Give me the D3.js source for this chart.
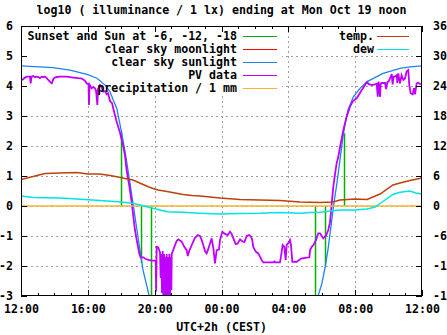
<!DOCTYPE html>
<html><head><meta charset="utf-8">
<script src="https://cdn.jsdelivr.net/npm/d3@7"></script>
<style>
body{margin:0;background:#fff}
svg text{font-family:"DejaVu Sans Mono",monospace;font-weight:bold;font-size:11.6px;fill:#000}
</style></head><body>
<svg id="c" width="447" height="335"></svg>
<script>
// ---- data (hours since Sun 12:00 noon) ----
const hourTicks=[0,4,8,12,16,20,24];
const hourLabels=["12:00","16:00","20:00","00:00","04:00","08:00","12:00"];
const leftTicks=[-3,-2,-1,0,1,2,3,4,5,6];
const rightTicks=[-18,-12,-6,0,6,12,18,24,30,36];
const titleText="log10 ( illuminance / 1 lx) ending at Mon Oct 19 noon";
const xLabel="UTC+2h (CEST)";

// Sunset and Sun at -6, -12, -18 (impulses)
const sunEventTimes=[5.99,7.16,7.76,17.61,18.21,19.35];
const sunEventValues=[2.48,-1.9,-3.3,-3.3,-2.0,2.42];

// clear sky moonlight (below range all night)
const moonTimes=[];
const moonValues=[];

// clear sky sunlight
const sunTimes=[0,1.92,2.93,3.95,4.55,5.03,5.33,5.52,5.73,6.03,6.28,6.52,6.72,6.94,7.12,7.30,7.54,7.66,7.78,
 17.66,17.78,18.01,18.19,18.37,18.55,18.73,18.91,19.09,19.27,19.39,19.57,19.89,20.29,20.69,21.67,22.68,23.28,24];
const sunValues=[4.67,4.61,4.53,4.39,4.26,4.03,3.81,3.53,3.26,2.43,1.64,0.77,0.03,-0.8,-1.47,-2.13,-2.69,-2.97,-3.4,
 -3.4,-3.0,-2.58,-2.07,-1.47,-0.69,0.1,0.77,1.53,2.3,2.7,3.2,3.64,3.92,4.14,4.42,4.59,4.64,4.67];

// PV data
const pvTimes=[
0,0.12,0.24,0.34,0.54,0.58,0.63,0.74,0.84,0.94,
1.04,1.14,1.24,1.33,1.44,1.54,1.63,1.74,1.84,1.90,
1.93,2.03,2.14,2.33,2.74,3.13,3.43,3.65,3.83,3.93,
4.04,4.07,4.10,4.13,4.23,4.33,4.43,4.49,4.57,4.61,
4.73,4.83,4.93,5.03,5.13,5.21,5.33,5.45,5.52,5.73,
5.93,6.12,6.22,6.32,6.49,6.62,6.72,6.82,6.96,7.08,
7.16,7.32,7.42,7.62,7.82,8.06,8.09,8.12,8.21,8.32,
8.36,8.40,8.44,8.48,8.52,8.56,8.60,8.64,8.68,8.72,
8.76,8.80,8.84,8.88,8.92,8.96,9.00,9.02,9.11,9.22,
9.32,9.41,9.62,9.77,9.92,9.98,10.07,10.22,10.41,10.58,
10.71,10.81,10.91,11.01,11.11,11.21,11.31,11.41,11.51,11.61,
11.71,11.85,11.91,12.05,12.21,12.37,12.51,12.61,12.71,12.85,
12.97,13.11,13.25,13.37,13.51,13.65,13.77,13.84,13.90,14.05,
14.20,14.30,14.40,14.50,15.10,15.16,15.23,15.50,15.56,15.66,
15.76,15.84,15.90,16.00,16.10,16.16,16.24,16.50,16.60,16.76,
17.00,17.26,17.30,17.40,17.50,17.66,17.79,17.90,18.00,18.09,
18.26,18.39,18.50,18.60,18.69,18.80,18.89,18.99,19.09,19.29,
19.49,19.69,19.87,20.09,20.33,20.53,20.65,20.73,20.79,20.99,
21.29,21.35,21.40,21.49,21.53,21.59,21.79,21.85,21.93,22.00,
22.13,22.19,22.24,22.30,22.39,22.49,22.52,22.58,22.68,22.78,
22.88,22.98,23.08,23.18,23.24,23.32,23.44,23.52,23.58,23.68,
23.78,23.88,23.94];
const pvValues=[
4.20,4.22,4.28,4.31,4.31,4.09,4.31,4.33,4.29,4.31,
4.30,4.26,4.31,4.30,4.31,4.26,4.20,4.14,4.09,4.17,
4.23,4.28,4.30,4.31,4.31,4.28,4.26,4.25,4.17,4.09,
4.05,3.37,4.05,4.02,3.92,3.97,3.92,3.85,3.37,3.90,
4.03,3.95,3.81,3.83,3.72,3.76,3.50,3.43,3.26,2.80,
2.43,2.00,1.70,1.20,0.65,0.15,-0.33,-0.80,-1.24,-1.58,
-1.71,-1.71,-1.75,-1.80,-1.82,-1.82,-2.85,-1.36,-1.38,-1.55,
-2.40,-1.60,-2.90,-1.50,-3.20,-1.60,-3.20,-1.70,-3.20,-1.60,
-3.20,-1.70,-3.20,-1.60,-3.20,-1.70,-2.80,-1.60,-1.47,-1.30,
-1.16,-1.11,-1.19,-1.36,-1.47,-1.67,-1.50,-1.30,-1.06,-0.97,
-1.00,-1.13,-1.30,-1.50,-1.58,-1.43,-1.25,-1.08,-1.40,-1.91,
-1.47,-1.45,-1.13,-0.86,-0.93,-0.97,-0.86,-0.93,-1.08,-1.27,
-1.25,-1.11,-1.18,-1.20,-1.00,-0.97,-1.02,-1.13,-1.36,-1.52,
-1.58,-1.69,-1.80,-1.88,-1.88,-1.85,-1.88,-1.88,-1.69,-1.30,
-1.36,-1.80,-1.30,-1.24,-1.13,-1.30,-1.86,-1.86,-1.82,-1.75,
-1.73,-1.71,-1.47,-1.36,-1.30,-1.13,-0.91,-0.91,-1.00,-1.08,
-0.98,-0.80,-0.52,0.09,0.64,1.09,1.42,1.64,1.95,2.53,
2.98,3.31,3.50,3.59,3.81,3.98,4.09,4.13,4.07,4.03,
4.07,3.64,4.15,3.64,4.08,4.10,4.10,3.90,4.13,4.15,
4.31,4.40,4.05,4.30,4.32,4.36,4.10,4.42,4.09,4.36,
4.20,4.25,4.48,4.53,4.03,3.76,3.72,3.93,3.72,4.09,
4.11,4.07,4.05];

// precipitation / 1 mm (log scale, left axis)
const precipTimes=[0,24];
const precipValues=[0,0];

// temperature and dew point (right axis, °C)
const tempTimes=[0,1.44,2.33,3.35,4.01,4.73,5.33,5.81,6.22,6.70,7.24,7.72,8.20,8.74,9.22,9.70,10.23,10.71,11.31,11.91,
 13.11,14.30,15.50,16.70,17.90,18.67,19.09,19.99,20.71,21.49,22.26,22.68,23.28,24];
const tempValues=[5.3,6.5,6.6,6.7,6.4,6.4,6.1,5.8,5.5,5.2,4.4,3.7,3.2,2.9,2.6,2.3,2.1,2.0,1.8,1.6,
 1.3,1.2,1.1,0.8,0.7,0.8,1.2,1.4,1.3,2.4,4.2,4.6,5.1,5.6];
const dewTimes=[0,0.72,2.33,3.35,4.73,5.81,6.70,7.12,7.72,8.32,8.74,9.70,10.71,11.91,13.11,14.30,15.50,16.70,17.30,17.90,
 18.49,19.09,19.99,20.71,21.19,21.49,22.26,22.68,23.28,23.64,24];
const dewValues=[2.0,1.7,1.6,1.4,1.1,0.85,0.55,0.2,-0.3,-0.8,-1.15,-1.25,-1.45,-1.6,-1.5,-1.45,-1.3,-1.45,-1.3,-1.25,
 -1.0,-0.8,-0.8,-0.6,-0.2,0.5,2.3,2.75,3.0,2.6,2.4];

const leftLegendNames=["Sunset and Sun at -6, -12, -18","clear sky moonlight","clear sky sunlight","PV data","precipitation / 1 mm"];
const leftLegendColors=["#00b000","#ff0000","#1e82f0","#c000ff","#f5b530"];
const rightLegendNames=["temp.","dew"];
const rightLegendColors=["#c0400a","#00e4e4"];

// ---- layout ----
const L=21,R=422,T=26,B=296;
const svg=d3.select("#c");
const x=d3.scaleLinear().domain([0,24]).range([L,R]);
const y=d3.scaleLinear().domain([-3,6]).range([B,T]);
const y2=d3.scaleLinear().domain([-18,36]).range([B,T]);

svg.append("defs").append("clipPath").attr("id","plot")
  .append("rect").attr("x",L).attr("y",T).attr("width",R-L).attr("height",B-T);
// mask for grid (grid is not drawn behind the key)
const mask=svg.select("defs").append("mask").attr("id","gridmask");
mask.append("rect").attr("x",0).attr("y",0).attr("width",447).attr("height",335).attr("fill","#fff");
mask.append("rect").attr("x",24).attr("y",28).attr("width",258).attr("height",67).attr("fill","#000");
mask.append("rect").attr("x",330).attr("y",28).attr("width",82).attr("height",27).attr("fill","#000");

// grid
const grid=svg.append("g").attr("mask","url(#gridmask)")
  .attr("stroke","#a0a0a0").attr("stroke-dasharray","2,3").attr("shape-rendering","crispEdges");
grid.selectAll("line.v").data(hourTicks.slice(1,-1)).join("line")
  .attr("x1",d=>Math.round(x(d))+0.5).attr("x2",d=>Math.round(x(d))+0.5).attr("y1",T).attr("y2",B);
grid.selectAll("line.h").data(leftTicks.slice(1,-1)).join("line")
  .attr("y1",d=>Math.round(y(d))+0.5).attr("y2",d=>Math.round(y(d))+0.5).attr("x1",L).attr("x2",R);

const plot=svg.append("g").attr("clip-path","url(#plot)");
function series(times,values,scale,color,width){
  const line=d3.line().x((d,i)=>x(times[i])).y(d=>scale(d));
  plot.append("path").datum(values).attr("d",line).attr("fill","none")
    .attr("stroke",color).attr("stroke-width",width).attr("stroke-linejoin","miter");
}
// Sunset impulses
plot.append("g").selectAll("line").data(sunEventValues).join("line")
  .attr("x1",(d,i)=>Math.round(x(sunEventTimes[i]))+0.5).attr("x2",(d,i)=>Math.round(x(sunEventTimes[i]))+0.5)
  .attr("y1",y(0)).attr("y2",d=>y(d)).attr("stroke",leftLegendColors[0]).attr("stroke-width",1.5);
if(moonValues.length) series(moonTimes,moonValues,y,leftLegendColors[1],1.2);
series(sunTimes,sunValues,y,leftLegendColors[2],1.3);
series(pvTimes,pvValues,y,leftLegendColors[3],1.8);
series(precipTimes,precipValues,y,leftLegendColors[4],1.3);
series(tempTimes,tempValues,y2,rightLegendColors[0],1.5);
series(dewTimes,dewValues,y2,rightLegendColors[1],1.5);

// axes
const axes=svg.append("g").attr("shape-rendering","crispEdges");
function styleAxis(g){g.select(".domain").remove();g.selectAll("line").attr("stroke","#000");}
axes.append("g").attr("transform",`translate(0,${B})`)
  .call(d3.axisBottom(x).tickValues(d3.range(0,25)).tickSizeInner(-3).tickSizeOuter(0).tickFormat(""))
  .call(styleAxis);
axes.append("g").attr("transform",`translate(0,${T})`)
  .call(d3.axisTop(x).tickValues(d3.range(0,25)).tickSizeInner(-3).tickSizeOuter(0).tickFormat(""))
  .call(styleAxis);
axes.append("g").attr("transform",`translate(0,${T})`)
  .call(d3.axisTop(x).tickValues(hourTicks).tickSizeInner(-6).tickSizeOuter(0).tickFormat(""))
  .call(styleAxis);
const xb=axes.append("g").attr("transform",`translate(0,${B})`)
  .call(d3.axisBottom(x).tickValues(hourTicks).tickSizeInner(-6).tickSizeOuter(0).tickPadding(9)
    .tickFormat((d,i)=>hourLabels[i]))
  .call(styleAxis);
axes.append("g").attr("transform",`translate(${L},0)`)
  .call(d3.axisLeft(y).tickValues(leftTicks).tickSizeInner(-6).tickSizeOuter(0).tickPadding(8).tickFormat(d=>String(d)))
  .call(styleAxis);
axes.append("g").attr("transform",`translate(${R},0)`)
  .call(d3.axisRight(y2).tickValues(rightTicks).tickSizeInner(-6).tickSizeOuter(0).tickPadding(11).tickFormat(d=>String(d)))
  .call(styleAxis);
svg.selectAll(".tick text").attr("font-family",null).attr("font-size",null);
// border
svg.append("rect").attr("x",L+0.5).attr("y",T+0.5).attr("width",R-L-1).attr("height",B-T-1)
  .attr("fill","none").attr("stroke","#000").attr("shape-rendering","crispEdges");

// titles
svg.append("text").attr("x",(L+R)/2).attr("y",14).attr("text-anchor","middle").text(titleText);
svg.append("text").attr("x",(L+R)/2).attr("y",331).attr("text-anchor","middle").text(xLabel);

// legend
const leg=svg.append("g");
leftLegendNames.forEach((n,i)=>{
  const yy=36+i*13;
  leg.append("text").attr("x",237).attr("y",yy).attr("dy","0.35em").attr("text-anchor","end").text(n);
  leg.append("line").attr("x1",243).attr("x2",277).attr("y1",yy+0.5).attr("y2",yy+0.5)
    .attr("stroke",leftLegendColors[i]).attr("stroke-width",1.5).attr("shape-rendering","crispEdges");
});
rightLegendNames.forEach((n,i)=>{
  const yy=36+i*13;
  leg.append("text").attr("x",374).attr("y",yy).attr("dy","0.35em").attr("text-anchor","end").text(n);
  leg.append("line").attr("x1",377).attr("x2",409).attr("y1",yy+0.5).attr("y2",yy+0.5)
    .attr("stroke",rightLegendColors[i]).attr("stroke-width",1.5).attr("shape-rendering","crispEdges");
});
</script></body></html>
